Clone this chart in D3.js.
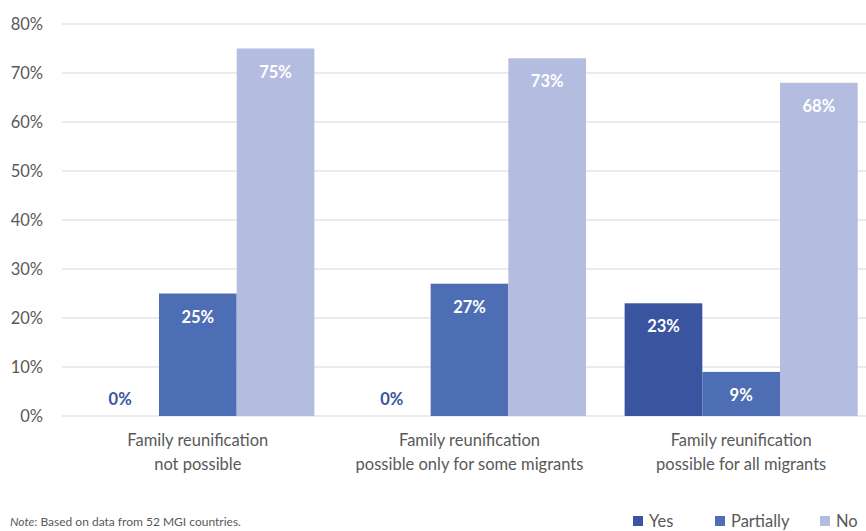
<!DOCTYPE html>
<html><head><meta charset="utf-8">
<script src="https://cdn.jsdelivr.net/npm/d3@7"></script>
<style>body{margin:0;background:#fff}svg{display:block}text{font-family:Lato,"Open Sans",sans-serif}</style>
</head><body><svg id="c" width="866" height="531"></svg>
<script>
const categories = [["Family reunification","not possible"],["Family reunification","possible only for some migrants"],["Family reunification","possible for all migrants"]];
const series = ["Yes","Partially","No"];
const yesValues = [0,0,23];
const partiallyValues = [25,27,9];
const noValues = [75,73,68];
const yTicks = [0,10,20,30,40,50,60,70,80];
const colors = ["#3A55A0","#4D6EB4","#B4BDE0"];

const svg = d3.select("#c");
const y = d3.scaleLinear().domain([0,80]).range([416,24]);
const x0 = d3.scaleBand().domain(d3.range(3)).range([62,877]).paddingInner(0.142).paddingOuter(0.071);
const x1 = d3.scaleBand().domain(series).range([0,x0.bandwidth()]);

// grid
svg.append("g").selectAll("line").data(yTicks).join("line")
  .attr("x1",62).attr("x2",866).attr("y1",d=>y(d)).attr("y2",d=>y(d))
  .attr("stroke","#e4e4e4").attr("stroke-width",1.5);
svg.append("g").selectAll("text").data(yTicks).join("text")
  .attr("x",43).attr("y",d=>y(d)+6).attr("text-anchor","end")
  .attr("fill","#595959").attr("font-size",16.5).text(d=>d+"%");

const vals = [yesValues,partiallyValues,noValues];
const data = [];
categories.forEach((c,i)=>series.forEach((s,j)=>data.push({i,s,j,v:vals[j][i]})));
const g = svg.append("g");
g.selectAll("rect").data(data).join("rect")
  .attr("x",d=>x0(d.i)+x1(d.s)).attr("width",x1.bandwidth())
  .attr("y",d=>y(d.v)).attr("height",d=>y(0)-y(d.v)).attr("fill",d=>colors[d.j]);
g.selectAll("text.v").data(data).join("text").attr("class","v")
  .attr("x",d=>x0(d.i)+x1(d.s)+x1.bandwidth()/2)
  .attr("y",d=>d.v===0? y(0)-11 : y(d.v)+29)
  .attr("text-anchor","middle").attr("font-size",16.5).attr("font-weight","bold")
  .attr("fill",d=>d.v===0? colors[0] : "#fff").text(d=>d.v+"%");

// category labels
categories.forEach((c,i)=>{
  const t = svg.append("text").attr("text-anchor","middle").attr("fill","#595959").attr("font-size",16.5);
  c.forEach((line,k)=>t.append("tspan").attr("x",x0(i)+x0.bandwidth()/2).attr("y",446+k*24).text(line));
});

// note
const n = svg.append("text").attr("x",10).attr("y",526).attr("font-size",12).attr("fill","#595959");
n.append("tspan").attr("font-style","italic").text("Note");
n.append("tspan").text(": Based on data from 52 MGI countries.");

// legend
const lx = [633,715,820];
const lg = svg.append("g").selectAll("g").data(series).join("g")
  .attr("transform",(d,i)=>`translate(${lx[i]},516)`);
lg.append("rect").attr("width",10).attr("height",10).attr("fill",(d,i)=>colors[i]);
lg.append("text").attr("x",16).attr("y",10.5).attr("font-size",16.5).attr("fill","#595959").text(d=>d);
</script></body></html>
